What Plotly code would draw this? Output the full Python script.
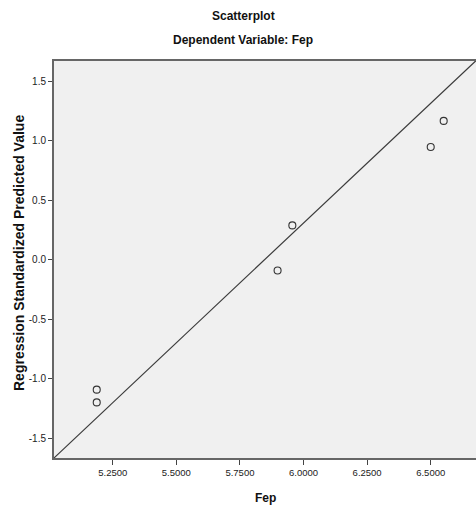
import plotly.graph_objects as go

# Data
fep = [5.187, 5.187, 5.898, 5.956, 6.500, 6.551]
pred = [-1.093, -1.200, -0.092, 0.287, 0.945, 1.165]

x_range = [5.019, 6.678]
y_range = [-1.667, 1.668]
x_ticks = [5.25, 5.5, 5.75, 6.0, 6.25, 6.5]
x_ticktext = ["5.2500", "5.5000", "5.7500", "6.0000", "6.2500", "6.5000"]
y_ticks = [-1.5, -1.0, -0.5, 0.0, 0.5, 1.0, 1.5]
y_ticktext = ["-1.5", "-1.0", "-0.5", "0.0", "0.5", "1.0", "1.5"]

# reference line
line_slope = 2.012
line_intercept = -11.765

W, H = 476, 513
ML, MR, MT, MB = 54, 0, 61, 55
pw = W - ML - MR
ph = H - MT - MB

def px_x(px):
    return (px - ML) / pw

def px_y(py):
    return (H - MB - py) / ph

line_x = list(x_range)
line_y = [line_slope * v + line_intercept for v in line_x]

fig = go.Figure()
fig.add_trace(go.Scatter(
    x=line_x, y=line_y, mode="lines",
    line=dict(color="#3a3a3a", width=1.2),
    hoverinfo="skip", showlegend=False, cliponaxis=True,
))
fig.add_trace(go.Scatter(
    x=fep, y=pred, mode="markers",
    marker=dict(symbol="circle-open", size=7, color="#333333", line=dict(width=1.1)),
    showlegend=False,
))

sans = "Liberation Sans, Arial, sans-serif"

fig.update_layout(
    width=W, height=H,
    margin=dict(l=ML, r=MR, t=MT, b=MB),
    paper_bgcolor="white",
    plot_bgcolor="#f0f0f0",
    xaxis=dict(
        range=x_range, tickvals=x_ticks, ticktext=x_ticktext,
        showgrid=False, zeroline=False,
        ticks="outside", ticklen=5, tickcolor="#444", tickwidth=1,
        showline=True, linecolor="#666666", linewidth=2, mirror=True,
        tickfont=dict(family=sans, size=9.5, color="#222222"),
    ),
    yaxis=dict(
        range=y_range, tickvals=y_ticks, ticktext=y_ticktext,
        showgrid=False, zeroline=False,
        ticks="outside", ticklen=4, tickcolor="#444", tickwidth=1,
        showline=True, linecolor="#666666", linewidth=2, mirror=False,
        tickfont=dict(family=sans, size=10, color="#222222"),
    ),
    annotations=[
        dict(text="<b>Scatterplot</b>", xref="paper", yref="paper",
             x=px_x(243), y=px_y(16), xanchor="center", yanchor="middle", showarrow=False,
             font=dict(family=sans, size=12, color="#111")),
        dict(text="<b>Dependent Variable: Fep</b>", xref="paper", yref="paper",
             x=px_x(243), y=px_y(40), xanchor="center", yanchor="middle", showarrow=False,
             font=dict(family=sans, size=12, color="#111")),
        dict(text="<b>Fep</b>", xref="paper", yref="paper",
             x=px_x(265), y=px_y(498), xanchor="center", yanchor="middle", showarrow=False,
             font=dict(family=sans, size=12, color="#111")),
        dict(text="<b>Regression Standardized Predicted Value</b>", xref="paper", yref="paper",
             x=px_x(19), y=px_y(253), xanchor="center", yanchor="middle", showarrow=False,
             textangle=-90,
             font=dict(family=sans, size=14, color="#111")),
    ],
)

fig.write_html("out.html")
